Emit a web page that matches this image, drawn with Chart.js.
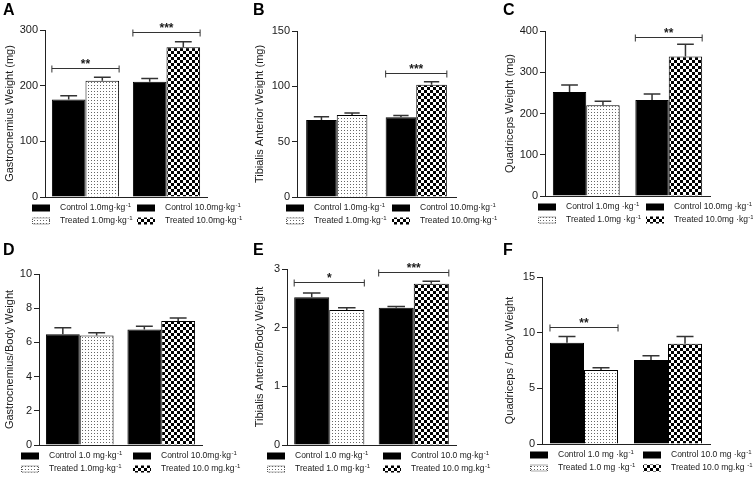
<!DOCTYPE html>
<html>
<head>
<meta charset="utf-8">
<script src="https://cdn.jsdelivr.net/npm/chart.js@4.4.1/dist/chart.umd.min.js"></script>
<style>
  body { margin: 0; background: #fff; }
  canvas { position: absolute; }
</style>
</head>
<body>
<canvas id="pA" width="250" height="240" style="left:0;top:0"></canvas>
<canvas id="pB" width="250" height="240" style="left:250px;top:0"></canvas>
<canvas id="pC" width="253" height="240" style="left:500px;top:0"></canvas>
<canvas id="pD" width="250" height="241" style="left:0;top:240px"></canvas>
<canvas id="pE" width="250" height="241" style="left:250px;top:240px"></canvas>
<canvas id="pF" width="253" height="241" style="left:500px;top:240px"></canvas>
<script>
const doses = ["1.0 mg/kg", "10.0 mg/kg"];

// A - gastrocnemius weight (mg)
const gastroControl = [175, 207];
const gastroTreated = [209, 269];
const gastroControlSem = [7, 6];
const gastroTreatedSem = [6, 10];
// B - tibialis anterior weight (mg)
const tibControl = [69.5, 72];
const tibTreated = [74, 101.5];
const tibControlSem = [3, 1.7];
const tibTreatedSem = [2, 2.7];
// C - quadriceps weight (mg)
const quadControl = [252, 233];
const quadTreated = [220, 338];
const quadControlSem = [17, 14];
const quadTreatedSem = [10, 30];
// D - gastrocnemius / body weight
const gastroBwControl = [6.47, 6.75];
const gastroBwTreated = [6.40, 7.25];
const gastroBwControlSem = [0.39, 0.2];
const gastroBwTreatedSem = [0.17, 0.18];
// E - tibialis anterior / body weight
const tibBwControl = [2.52, 2.34];
const tibBwTreated = [2.30, 2.75];
const tibBwControlSem = [0.07, 0.02];
const tibBwTreatedSem = [0.04, 0.04];
// F - quadriceps / body weight
const quadBwControl = [9.1, 7.55];
const quadBwTreated = [6.65, 9.0];
const quadBwControlSem = [0.55, 0.38];
const quadBwTreatedSem = [0.2, 0.65];

// significance brackets: dose group, height, stars
const sigA = [[0, 231, "**"], [1, 296, "***"]];
const sigB = [[1, 112, "***"]];
const sigC = [[1, 386, "**"]];
const sigD = [];
const sigE = [[0, 2.77, "*"], [1, 2.95, "***"]];
const sigF = [[0, 10.5, "**"]];

// y axis: min, max, step
const ticksA = [0, 300, 100];
const ticksB = [0, 150, 50];
const ticksC = [0, 400, 100];
const ticksD = [0, 10, 2];
const ticksE = [0, 3, 1];
const ticksF = [0, 15, 5];

// legend texts, order: control low, control high, treated low, treated high
const legendA = ["Control 1.0mg·kg⁻¹", "Control 10.0mg·kg⁻¹", "Treated 1.0mg·kg⁻¹", "Treated 10.0mg·kg⁻¹"];
const legendB = ["Control 1.0mg·kg⁻¹", "Control 10.0mg·kg⁻¹", "Treated 1.0mg·kg⁻¹", "Treated 10.0mg·kg⁻¹"];
const legendC = ["Control 1.0mg ·kg⁻¹", "Control 10.0mg ·kg⁻¹", "Treated 1.0mg ·kg⁻¹", "Treated 10.0mg ·kg⁻¹"];
const legendD = ["Control 1.0 mg·kg⁻¹", "Control 10.0mg·kg⁻¹", "Treated 1.0mg·kg⁻¹", "Treated 10.0 mg.kg⁻¹"];
const legendE = ["Control 1.0 mg·kg⁻¹", "Control 10.0 mg·kg⁻¹", "Treated 1.0 mg·kg⁻¹", "Treated 10.0 mg.kg⁻¹"];
const legendF = ["Control 1.0 mg ·kg⁻¹", "Control 10.0 mg ·kg⁻¹", "Treated 1.0 mg ·kg⁻¹", "Treated 10.0 mg.kg ⁻¹"];

const FONT = "'Liberation Sans', Arial, sans-serif";
Chart.defaults.font.family = FONT;
Chart.defaults.color = "#1a1a1a";

function makePattern(kind) {
  const c = document.createElement("canvas");
  const g = c.getContext("2d");
  if (kind === "dots") {
    c.width = 3; c.height = 3;
    g.fillStyle = "#fff"; g.fillRect(0, 0, 3, 3);
    g.fillStyle = "#666"; g.fillRect(1, 1, 1, 1);
  } else {
    c.width = 6; c.height = 6;
    g.fillStyle = "#fff"; g.fillRect(0, 0, 6, 6);
    g.fillStyle = "#000"; g.fillRect(0, 0, 3, 3); g.fillRect(3, 3, 3, 3);
  }
  return g.createPattern(c, "repeat");
}
const dots = makePattern("dots");
const checks = makePattern("checks");

const extras = {
  id: "extras",
  afterDatasetsDraw(chart, args, o) {
    const ctx = chart.ctx, y = chart.scales.y;
    ctx.save();
    ctx.strokeStyle = "#333";
    ctx.lineWidth = 1.5;
    // error bars (SEM, upward only)
    chart.data.datasets.forEach((ds, di) => {
      chart.getDatasetMeta(di).data.forEach((bar, i) => {
        const top = y.getPixelForValue(ds.data[i] + ds.sem[i]);
        const half = bar.width / 4;
        ctx.beginPath();
        ctx.moveTo(bar.x, bar.y);
        ctx.lineTo(bar.x, top);
        ctx.moveTo(bar.x - half, top);
        ctx.lineTo(bar.x + half, top);
        ctx.stroke();
      });
    });
    // significance brackets
    ctx.lineWidth = 1;
    ctx.fillStyle = "#1a1a1a";
    ctx.font = "bold 12px " + FONT;
    ctx.textAlign = "center";
    ctx.textBaseline = "alphabetic";
    o.sig.forEach(([g, v, mark]) => {
      const a = chart.getDatasetMeta(0).data[g];
      const b = chart.getDatasetMeta(1).data[g];
      const x1 = a.x - a.width / 2, x2 = b.x + b.width / 2;
      const yy = Math.round(y.getPixelForValue(v)) + 0.5;
      ctx.beginPath();
      ctx.moveTo(x1, yy); ctx.lineTo(x2, yy);
      ctx.moveTo(x1, yy - 3); ctx.lineTo(x1, yy + 4);
      ctx.moveTo(x2, yy - 3); ctx.lineTo(x2, yy + 4);
      ctx.stroke();
      ctx.fillText(mark, (x1 + x2) / 2, yy - 1);
    });
    ctx.restore();
  },
  afterDraw(chart, args, o) {
    const ctx = chart.ctx, area = chart.chartArea;
    ctx.save();
    // panel letter
    ctx.fillStyle = "#000";
    ctx.font = "bold 16px " + FONT;
    ctx.textBaseline = "alphabetic";
    ctx.fillText(o.letter, 3, 15);
    // legend, 2 x 2
    const fills = ["#000", "#000", dots, checks];
    ctx.textBaseline = "middle";
    o.legend.forEach((label, i) => {
      const sx = o.legendX[i % 2];
      const cy = area.bottom + (i < 2 ? 11 : 24);
      ctx.fillStyle = fills[i];
      ctx.fillRect(sx, cy - 3.5, 18, 7);
      if (i === 2) {
        ctx.strokeStyle = "#555";
        ctx.lineWidth = 1;
        ctx.setLineDash([1, 1]);
        ctx.strokeRect(sx + 0.5, cy - 3, 17, 6);
        ctx.setLineDash([]);
      }
      ctx.fillStyle = "#1a1a1a";
      // the "-1" exponent is drawn raised and smaller
      const base = label.replace("⁻¹", "");
      ctx.font = "8.5px " + FONT;
      ctx.fillText(base, sx + 28, cy);
      const w = ctx.measureText(base).width;
      ctx.font = "6px " + FONT;
      ctx.fillText("-1", sx + 28 + w + 0.5, cy - 3);
    });
    ctx.restore();
  }
};

function panel(id, p) {
  new Chart(document.getElementById(id), {
    type: "bar",
    data: {
      labels: doses,
      datasets: [
        { label: "Control", data: p.control, sem: p.controlSem,
          backgroundColor: "#000", borderColor: "#000", borderWidth: 1 },
        { label: "Treated", data: p.treated, sem: p.treatedSem,
          backgroundColor: [dots, checks], borderColor: "#000", borderWidth: 1 }
      ]
    },
    options: {
      responsive: false,
      animation: false,
      devicePixelRatio: 1,
      categoryPercentage: p.cat,
      barPercentage: 1,
      layout: { padding: { left: 0, top: p.top, right: p.right, bottom: p.bottom } },
      scales: {
        x: {
          offset: true,
          grid: { display: false },
          border: { display: true, color: "#222", width: 1 },
          ticks: { display: false },
          afterFit(s) { s.height = 0; }
        },
        y: {
          min: p.ticks[0], max: p.ticks[1],
          ticks: { stepSize: p.ticks[2], color: "#1a1a1a", font: { size: 11 }, padding: 2 },
          grid: { drawOnChartArea: false, drawTicks: true, tickLength: 5, color: "#222", lineWidth: 1 },
          border: { display: true, color: "#222", width: 1 },
          title: { display: true, text: p.title, color: "#1a1a1a", font: { size: 11 }, padding: { top: 3, bottom: 0 } },
          afterFit(s) { s.width = p.left; }
        }
      },
      plugins: {
        legend: { display: false },
        tooltip: { enabled: false },
        extras: { letter: p.letter, sig: p.sig, legend: p.legend, legendX: p.legendX }
      }
    },
    plugins: [extras]
  });
}

panel("pA", { letter: "A", title: "Gastrocnemius Weight (mg)", control: gastroControl, treated: gastroTreated,
  controlSem: gastroControlSem, treatedSem: gastroTreatedSem, sig: sigA, ticks: ticksA, legend: legendA,
  left: 45, top: 30, right: 43, bottom: 43, cat: 0.83, legendX: [32, 137] });
panel("pB", { letter: "B", title: "Tibialis Anterior Weight (mg)", control: tibControl, treated: tibTreated,
  controlSem: tibControlSem, treatedSem: tibTreatedSem, sig: sigB, ticks: ticksB, legend: legendB,
  left: 47, top: 31, right: 44, bottom: 43, cat: 0.77, legendX: [36, 142] });
panel("pC", { letter: "C", title: "Quadriceps Weight (mg)", control: quadControl, treated: quadTreated,
  controlSem: quadControlSem, treatedSem: quadTreatedSem, sig: sigC, ticks: ticksC, legend: legendC,
  left: 45, top: 31, right: 43, bottom: 44, cat: 0.81, legendX: [38, 146] });
panel("pD", { letter: "D", title: "Gastrocnemius/Body Weight", control: gastroBwControl, treated: gastroBwTreated,
  controlSem: gastroBwControlSem, treatedSem: gastroBwTreatedSem, sig: sigD, ticks: ticksD, legend: legendD,
  left: 39, top: 34, right: 48, bottom: 36, cat: 0.83, legendX: [21, 133] });
panel("pE", { letter: "E", title: "Tibialis Anterior/Body Weight", control: tibBwControl, treated: tibBwTreated,
  controlSem: tibBwControlSem, treatedSem: tibBwTreatedSem, sig: sigE, ticks: ticksE, legend: legendE,
  left: 37, top: 29, right: 44, bottom: 36, cat: 0.83, legendX: [17, 133] });
panel("pF", { letter: "F", title: "Quadriceps / Body Weight", control: quadBwControl, treated: quadBwTreated,
  controlSem: quadBwControlSem, treatedSem: quadBwTreatedSem, sig: sigF, ticks: ticksF, legend: legendF,
  left: 42, top: 37, right: 43, bottom: 37, cat: 0.81, legendX: [30, 143] });
</script>
</body>
</html>
